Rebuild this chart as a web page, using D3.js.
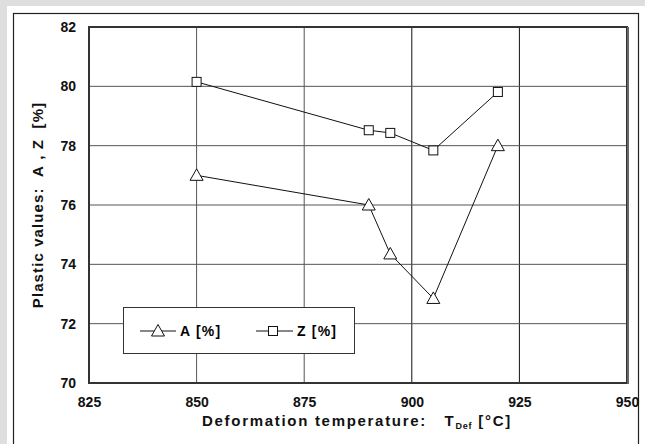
<!DOCTYPE html>
<html><head><meta charset="utf-8">
<script src="https://cdn.jsdelivr.net/npm/d3@7/dist/d3.min.js"></script>
<style>body{margin:0;background:#dedede;}svg{display:block;}</style>
</head><body>
<svg id="c" width="645" height="444"></svg>
<script>
const temps = [850, 890, 895, 905, 920];
const seriesA = [77.0, 76.0, 74.35, 72.85, 78.0];
const seriesZ = [80.15, 78.52, 78.43, 77.84, 79.81];
const xTicks = [825, 850, 875, 900, 925, 950];
const yTicks = [70, 72, 74, 76, 78, 80, 82];

const svg = d3.select("#c");
const font = "'Liberation Sans', Arial, sans-serif";
const NB = "\u00a0";
// page
svg.append("rect").attr("x",7).attr("y",6).attr("width",645).attr("height",444).attr("fill","#fff");
svg.append("rect").attr("x",13.5).attr("y",13.5).attr("width",625).attr("height",460)
  .attr("fill","none").attr("stroke","#222").attr("stroke-width",1.2);

const L=89, R=627, T=27, B=383;
const x = d3.scaleLinear().domain([825,950]).range([L,R]);
const y = d3.scaleLinear().domain([70,82]).range([B,T]);

// grid
svg.append("g").selectAll("line").data(xTicks.slice(1,-1)).join("line")
  .attr("x1",d=>x(d)).attr("x2",d=>x(d)).attr("y1",T).attr("y2",B)
  .attr("stroke",(d)=>d>=900?"#111":"#555").attr("stroke-width",1);
svg.append("g").selectAll("line").data(yTicks.slice(1,-1)).join("line")
  .attr("x1",L).attr("x2",R).attr("y1",d=>y(d)).attr("y2",d=>y(d))
  .attr("stroke","#555").attr("stroke-width",1);

// frame
svg.append("rect").attr("x",L).attr("y",T).attr("width",R-L).attr("height",B-T)
  .attr("fill","none").attr("stroke","#333").attr("stroke-width",2);
svg.append("line").attr("x1",R+1).attr("x2",R+1).attr("y1",T).attr("y2",B+1)
  .attr("stroke","#666").attr("stroke-width",2);

// axes tick labels via d3 axes
const xAxis = d3.axisBottom(x).tickValues(xTicks).tickSize(0).tickPadding(14);
const gx = svg.append("g").attr("transform",`translate(0,${B})`).call(xAxis);
gx.select(".domain").remove();
gx.selectAll("text").attr("font-family",font).attr("font-weight","bold").attr("font-size",14).attr("fill","#111");
const yAxis = d3.axisLeft(y).tickValues(yTicks).tickSize(0).tickPadding(13);
const gy = svg.append("g").attr("transform",`translate(${L},0)`).call(yAxis);
gy.select(".domain").remove();
gy.selectAll("text").attr("font-family",font).attr("font-weight","bold").attr("font-size",14).attr("fill","#111");

// lines
const line = d3.line().x(d=>x(d[0])).y(d=>y(d[1]));
const dataA = temps.map((t,i)=>[t,seriesA[i]]);
const dataZ = temps.map((t,i)=>[t,seriesZ[i]]);
svg.append("path").datum(dataZ).attr("d",line).attr("fill","none").attr("stroke","#111").attr("stroke-width",1);
svg.append("path").datum(dataA).attr("d",line).attr("fill","none").attr("stroke","#111").attr("stroke-width",1);

const tri = (cx,cy)=>`M${cx},${cy-6.5}L${cx+6.5},${cy+5}L${cx-6.5},${cy+5}Z`;
svg.append("g").selectAll("path").data(dataA).join("path")
  .attr("d",d=>tri(x(d[0]),y(d[1]))).attr("fill","#fff").attr("stroke","#111").attr("stroke-width",1);
svg.append("g").selectAll("rect").data(dataZ).join("rect")
  .attr("x",d=>x(d[0])-4.5).attr("y",d=>y(d[1])-4.5).attr("width",9).attr("height",9)
  .attr("fill","#fff").attr("stroke","#111").attr("stroke-width",1);

// legend
const lg = svg.append("g");
lg.append("rect").attr("x",123.5).attr("y",307.5).attr("width",231).attr("height",46)
  .attr("fill","#fff").attr("stroke","#333").attr("stroke-width",1);
const ly = 331;
lg.append("line").attr("x1",140).attr("x2",176).attr("y1",ly).attr("y2",ly).attr("stroke","#111");
lg.append("path").attr("d",tri(158,ly)).attr("fill","#fff").attr("stroke","#111");
lg.append("text").attr("x",180).attr("y",ly+5).text("A [%]")
  .attr("font-family",font).attr("font-weight","bold").attr("font-size",14).attr("letter-spacing",1.2);
lg.append("line").attr("x1",256).attr("x2",293).attr("y1",ly).attr("y2",ly).attr("stroke","#111");
lg.append("rect").attr("x",268.5).attr("y",ly-4.5).attr("width",9).attr("height",9).attr("fill","#fff").attr("stroke","#111");
lg.append("text").attr("x",297).attr("y",ly+5).text("Z [%]")
  .attr("font-family",font).attr("font-weight","bold").attr("font-size",14).attr("letter-spacing",1.2);

// axis titles
const xt = svg.append("text").attr("x",202).attr("y",426).attr("text-anchor","start")
  .attr("font-family",font).attr("font-weight","bold").attr("font-size",15).attr("fill","#111");
xt.append("tspan").text("Deformation temperature:" + NB+NB+NB + "T").attr("letter-spacing",1.7);
xt.append("tspan").text("Def").attr("font-size",9).attr("dy",3).attr("letter-spacing",0.8);
xt.append("tspan").text(NB+"[°C]").attr("font-size",15).attr("dy",-3).attr("letter-spacing",1.7);

svg.append("text").attr("transform","translate(43,205) rotate(-90)").attr("text-anchor","middle")
  .attr("font-family",font).attr("font-weight","bold").attr("font-size",15).attr("fill","#111")
  .attr("letter-spacing",1.1)
  .text("Plastic values:"+NB+NB+"A"+NB+","+NB+"Z"+NB+NB+"[%]");
</script>
</body></html>
